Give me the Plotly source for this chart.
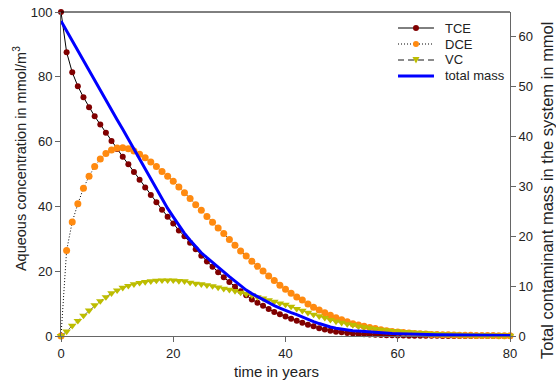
import plotly.graph_objects as go

years = list(range(0, 81))

tce = [100, 87.6, 81.4, 77.1, 73.7, 70.6, 67.8, 65.3, 62.7, 60.2,
       57.7, 55.3, 53.0, 50.6, 48.2, 45.8, 43.5, 41.3, 39.0, 36.8,
       34.7, 32.6, 30.8, 28.8, 26.8, 24.8, 23.0, 21.4, 19.7, 18.1,
       16.7, 15.2, 13.8, 12.6, 11.3, 10.3, 9.3, 8.3, 7.4, 6.7,
       6.0, 5.3, 4.7, 4.1, 3.5, 3.0, 2.4, 2.0, 1.6, 1.35,
       1.15, 0.95, 0.8, 0.65, 0.55, 0.45, 0.37, 0.3, 0.25, 0.2,
       0.16, 0.13, 0.11, 0.09, 0.07, 0.06, 0.05, 0.04, 0.03, 0.03,
       0.02, 0.02, 0.02, 0.01, 0.01, 0.01, 0.01, 0.01, 0.01, 0.01, 0.01]

dce = [0, 26.4, 35.2, 40.8, 45.6, 49.3, 52.3, 54.6, 56.3, 57.4,
       58.0, 58.1, 57.8, 57.1, 56.1, 55.0, 53.7, 52.3, 50.8, 49.3,
       47.8, 46.0, 44.2, 42.4, 40.5, 38.8, 36.9, 35.1, 33.3, 31.6,
       29.8, 28.0, 26.2, 24.7, 23.1, 21.5, 20.1, 18.5, 17.1, 15.7,
       14.4, 13.2, 12.0, 11.1, 9.9, 8.9, 8.0, 7.2, 6.4, 5.6,
       5.0, 4.4, 3.8, 3.4, 3.0, 2.6, 2.3, 1.9, 1.6, 1.4,
       1.2, 1.05, 0.9, 0.8, 0.7, 0.6, 0.5, 0.45, 0.4, 0.35,
       0.3, 0.26, 0.23, 0.2, 0.18, 0.16, 0.14, 0.12, 0.11, 0.1, 0.09]

vc = [0, 1.4, 3.2, 4.7, 6.3, 7.9, 9.5, 10.8, 12.0, 13.2,
      14.1, 14.9, 15.5, 16.0, 16.4, 16.7, 16.9, 17.1, 17.2, 17.2,
      17.2, 17.0, 16.9, 16.5, 16.2, 16.0, 15.7, 15.4, 15.0, 14.6,
      14.3, 13.9, 13.4, 13.0, 12.6, 12.0, 11.6, 11.1, 10.6, 10.1,
      9.7, 9.1, 8.4, 7.8, 7.2, 6.6, 6.1, 5.6, 5.0, 4.5,
      4.1, 3.7, 3.4, 3.0, 2.7, 2.4, 2.2, 2.0, 1.8, 1.6,
      1.5, 1.3, 1.2, 1.05, 0.95, 0.85, 0.75, 0.67, 0.6, 0.53,
      0.47, 0.42, 0.37, 0.33, 0.29, 0.26, 0.23, 0.2, 0.18, 0.16, 0.14]

total_mass_mmol = [63.2, 61.2, 59.2, 57.2, 55.3, 53.2, 51.3, 49.3, 47.3, 45.4,
                   43.4, 41.5, 39.5, 37.6, 35.4, 33.3, 31.3, 29.3, 27.4, 25.6,
                   23.9, 22.2, 20.6, 19.2, 17.9, 16.7, 15.7, 14.7, 13.7, 12.8,
                   11.9, 11.0, 10.1, 9.2, 8.5, 7.9, 7.2, 6.6, 6.1, 5.6,
                   5.1, 4.7, 4.3, 3.8, 3.4, 2.9, 2.5, 2.1, 1.8, 1.56,
                   1.37, 1.2, 1.07, 0.98, 0.88, 0.78, 0.72, 0.65, 0.59, 0.52,
                   0.47, 0.42, 0.39, 0.36, 0.33, 0.3, 0.27, 0.25, 0.23, 0.21,
                   0.2, 0.19, 0.18, 0.16, 0.15, 0.14, 0.14, 0.13, 0.12, 0.12, 0.11]

x_ticks = [0, 20, 40, 60, 80]
left_ticks = [0, 20, 40, 60, 80, 100]
right_ticks = [0, 10, 20, 30, 40, 50, 60]
legend_labels = ["TCE", "DCE", "VC", "total mass"]
x_title = "time in years"
y_title = "Aqueous concentration in mmol/m<sup>3</sup>"
y2_title = "Total contaminant mass in the system in mmol"

FONT = "Liberation Sans, Arial, sans-serif"
TXT = "#222222"
RED, ORANGE, OLIVE, BLUE = "#800000", "#FF8A10", "#BDBD00", "#0000FF"
DOT, DASH = "1px,2px", "6px,4px"

fig = go.Figure()
fig.add_trace(go.Scatter(
    x=years, y=tce, name=legend_labels[0], mode="lines+markers",
    line=dict(color="black", width=1),
    marker=dict(color=RED, size=6, symbol="circle"),
    cliponaxis=False))
fig.add_trace(go.Scatter(
    x=years, y=dce, name=legend_labels[1], mode="lines+markers",
    line=dict(color="black", width=1, dash=DOT),
    marker=dict(color=ORANGE, size=7, symbol="circle"),
    cliponaxis=False))
fig.add_trace(go.Scatter(
    x=years, y=vc, name=legend_labels[2], mode="lines+markers",
    line=dict(color="#666666", width=1, dash=DASH),
    marker=dict(color=OLIVE, size=7.5, symbol="triangle-down"),
    cliponaxis=False))
fig.add_trace(go.Scatter(
    x=years, y=total_mass_mmol, name=legend_labels[3], mode="lines",
    line=dict(color=BLUE, width=3), yaxis="y2",
    cliponaxis=False))

# manual legend (layout positions in paper coordinates)
row_y = [0.9506, 0.9012, 0.8519, 0.8025]
lx0, lx1, lmx, ltx = 0.7506, 0.8307, 0.7906, 0.8508
shapes = [dict(type="line", xref="paper", yref="paper", x0=0, x1=1, y0=1, y1=1,
               line=dict(color="black", width=1))]
styles = [dict(color="black", width=1, dash="solid"),
          dict(color="black", width=1, dash=DOT),
          dict(color="#666666", width=1.5, dash=DASH),
          dict(color=BLUE, width=3, dash="solid")]
for yy, st in zip(row_y, styles):
    shapes.append(dict(type="line", xref="paper", yref="paper", x0=lx0, x1=lx1,
                       y0=yy, y1=yy, line=st))
for yy, col in zip(row_y[:2], [RED, ORANGE]):
    shapes.append(dict(type="circle", xref="paper", yref="paper",
                       xsizemode="pixel", ysizemode="pixel", xanchor=lmx, yanchor=yy,
                       x0=-3, x1=3, y0=-3, y1=3, fillcolor=col, line=dict(width=0)))
shapes.append(dict(type="path", xref="paper", yref="paper",
                   xsizemode="pixel", ysizemode="pixel", xanchor=lmx, yanchor=row_y[2],
                   path="M-3.5,3 L3.5,3 L0,-3.5 Z", fillcolor=OLIVE, line=dict(width=0)))
annotations = [dict(text=t, xref="paper", yref="paper", x=ltx, y=yy,
                    xanchor="left", yanchor="middle", showarrow=False,
                    font=dict(size=13, family=FONT, color=TXT))
               for t, yy in zip(legend_labels, row_y)]
# axis titles
annotations += [
    dict(text=x_title, xref="paper", yref="paper", x=0.481, y=-0.111,
         xanchor="center", yanchor="middle", showarrow=False,
         font=dict(size=15, family=FONT, color=TXT)),
    dict(text=y_title, xref="paper", yref="paper", x=-0.0913, y=0.546,
         xanchor="center", yanchor="middle", showarrow=False, textangle=-90,
         font=dict(size=14.5, family=FONT, color=TXT)),
    dict(text=y2_title, xref="paper", yref="paper", x=1.0824, y=0.4506,
         xanchor="center", yanchor="middle", showarrow=False, textangle=-90,
         font=dict(size=16.5, family=FONT, color=TXT)),
]

fig.update_layout(
    width=556, height=385,
    margin=dict(l=61, r=46, t=12, b=49, autoexpand=False),
    paper_bgcolor="white", plot_bgcolor="white",
    font=dict(family=FONT, size=13, color=TXT),
    showlegend=False,
    xaxis=dict(range=[0, 80], tickvals=x_ticks, ticks="outside", ticklen=5,
               tickcolor="#666666", showline=True, linecolor="#666666",
               showgrid=False, zeroline=False, automargin=False),
    yaxis=dict(range=[0, 100], tickvals=left_ticks, ticks="outside", ticklen=5,
               tickcolor="#666666", showline=True, linecolor="#666666",
               showgrid=False, zeroline=False, automargin=False),
    yaxis2=dict(range=[0, 65], tickvals=right_ticks, ticks="outside", ticklen=5,
                tickcolor="#666666", showline=True, linecolor="#666666",
                overlaying="y", side="right", anchor="x",
                showgrid=False, zeroline=False, automargin=False),
    shapes=shapes,
    annotations=annotations,
)

fig.write_html("out.html")
